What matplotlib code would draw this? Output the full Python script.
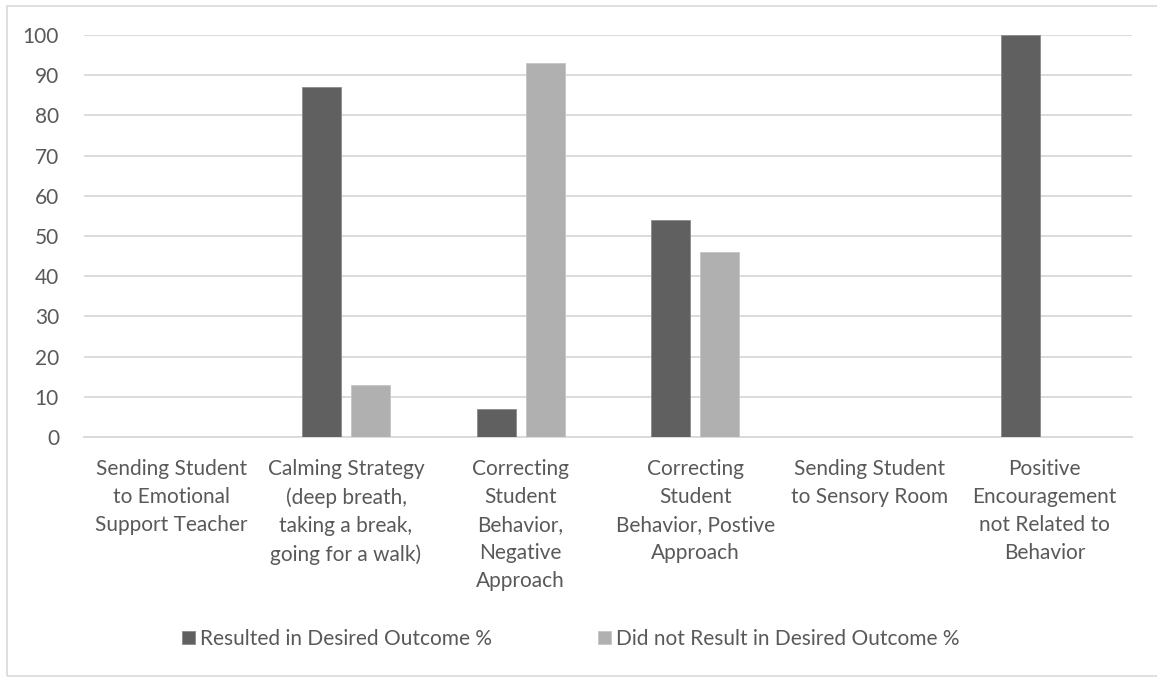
import numpy as np
import matplotlib.pyplot as plt
from matplotlib.patches import Rectangle

# strategy categories and outcome percentages
categories = [
    "Sending Student\nto Emotional\nSupport Teacher",
    "Calming Strategy\n(deep breath,\ntaking a break,\ngoing for a walk)",
    "Correcting\nStudent\nBehavior,\nNegative\nApproach",
    "Correcting\nStudent\nBehavior, Postive\nApproach",
    "Sending Student\nto Sensory Room",
    "Positive\nEncouragement\nnot Related to\nBehavior",
]
resulted = [0, 87, 7, 54, 0, 100]
did_not_result = [0, 13, 93, 46, 0, 0]
series_names = ["Resulted in Desired Outcome %", "Did not Result in Desired Outcome %"]

text_color = "#595959"
grid_color = "#D9D9D9"
dark = "#606060"
light = "#B0B0B0"

plt.rcParams["font.family"] = ["Lato", "DejaVu Sans"]

fig = plt.figure(figsize=(11.57, 6.77), dpi=100)
ax = fig.add_axes([84 / 1157, 1 - 437 / 677, (1132 - 84) / 1157, (437 - 35) / 677])

x = np.arange(len(categories))
width = 0.223
gap = 0.057
ax.bar(x - (width + gap) / 2, resulted, width, color=dark, edgecolor="#8a8a8a",
       linewidth=0.6, label=series_names[0], zorder=3)
ax.bar(x + (width + gap) / 2, did_not_result, width, color=light, edgecolor="#c4c4c4",
       linewidth=0.6, label=series_names[1], zorder=3)

ax.set_xlim(-0.5, len(categories) - 0.5)
ax.set_ylim(0, 100)
ax.set_yticks(range(0, 101, 10))
ax.yaxis.grid(True, color=grid_color, linewidth=1.3, zorder=0)
ax.set_axisbelow(True)

for side in ["top", "right", "left"]:
    ax.spines[side].set_visible(False)
ax.spines["bottom"].set_color(grid_color)
ax.spines["bottom"].set_linewidth(1.3)

ax.set_xticks(x)
ax.set_xticklabels(categories, fontsize=15, color=text_color, linespacing=1.5, va="top")
ax.tick_params(axis="x", length=0, pad=16)
ax.tick_params(axis="y", length=0, pad=18, labelsize=15, labelcolor=text_color)

leg = fig.legend(loc="center", bbox_to_anchor=(571 / 1157, 1 - 639 / 677), ncol=2, frameon=False,
                 fontsize=15, handlelength=0.6, handleheight=0.6, handletextpad=0.25,
                 columnspacing=5.1, labelcolor=text_color)

# outer chart border
fig.patches.append(Rectangle((7 / 1157, 1 / 677), 1.2, 1 - 7 / 677, transform=fig.transFigure,
                             fill=False, edgecolor="#D9D9D9", linewidth=1.2))

fig.savefig("out.png", dpi=100)
